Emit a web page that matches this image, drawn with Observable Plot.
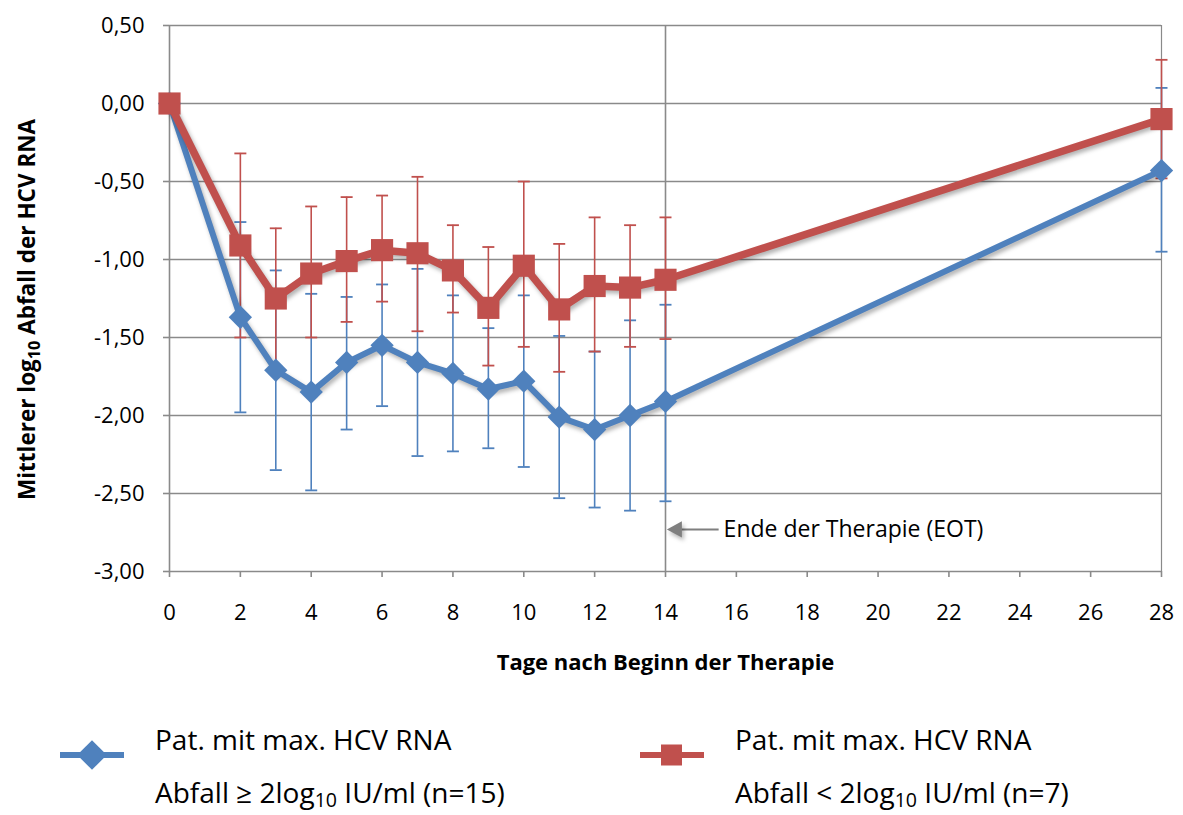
<!DOCTYPE html>
<html><head><meta charset="utf-8">
<script src="https://cdn.jsdelivr.net/npm/d3@7"></script>
<script src="https://cdn.jsdelivr.net/npm/@observablehq/plot@0.6"></script>
<style>
body{margin:0;background:#fff;font-family:"Open Sans",sans-serif}
#legend{display:block}
</style>
</head><body><div id="chart"></div>
<script>
// ---- data ----
const days = [0, 2, 3, 4, 5, 6, 7, 8, 9, 10, 11, 12, 13, 14, 28];
const blueMean  = [0, -1.37, -1.71, -1.85, -1.66, -1.55, -1.66, -1.73, -1.83, -1.78, -2.01, -2.09, -2.00, -1.91, -0.43];
const blueUpper = [0, -0.76, -1.07, -1.22, -1.24, -1.16, -1.06, -1.23, -1.44, -1.23, -1.49, -1.59, -1.39, -1.29, 0.10];
const blueLower = [0, -1.98, -2.35, -2.48, -2.09, -1.94, -2.26, -2.23, -2.21, -2.33, -2.53, -2.59, -2.61, -2.55, -0.95];
const redMean  = [0, -0.91, -1.25, -1.09, -1.01, -0.94, -0.96, -1.07, -1.31, -1.04, -1.32, -1.17, -1.18, -1.13, -0.10];
const redUpper = [0, -0.32, -0.80, -0.66, -0.60, -0.59, -0.47, -0.78, -0.92, -0.50, -0.90, -0.73, -0.78, -0.73, 0.28];
const redLower = [0, -1.50, -1.70, -1.50, -1.40, -1.27, -1.46, -1.34, -1.68, -1.56, -1.72, -1.59, -1.56, -1.51, -0.48];

const xTicks = [0, 2, 4, 6, 8, 10, 12, 14, 16, 18, 20, 22, 24, 26, 28];
const yTicks = [0.5, 0, -0.5, -1, -1.5, -2, -2.5, -3];
const xTitle = "Tage nach Beginn der Therapie";
const yTitleParts = ["Mittlerer log", "10", " Abfall der HCV RNA"];
const eotDay = [14];
const lastDay = [28];
const annotation = [{label: "Ende der Therapie (EOT)", xText: 15.64, xFrom: 15.5, xTip: 14.05, xHeadEnd: 14.45, y: -2.73}];
const legendBlue = ["Pat. mit max. HCV RNA", "Abfall ≥ 2log", "10", " IU/ml (n=15)"];
const legendRed  = ["Pat. mit max. HCV RNA", "Abfall < 2log", "10", " IU/ml (n=7)"];

const BLUE = "#4F81BD", RED = "#C0504D", GRID = "#8a8a8a";

const blue = days.map((d, i) => ({day: d, mean: blueMean[i], hi: blueUpper[i], lo: blueLower[i]}));
const red  = days.map((d, i) => ({day: d, mean: redMean[i], hi: redUpper[i], lo: redLower[i]}));
const blueErr = blue.filter(d => d.hi !== d.lo);
const redErr = red.filter(d => d.hi !== d.lo);
const caps = arr => arr.flatMap(d => [{day: d.day, v: d.hi}, {day: d.day, v: d.lo}]);

const capSymbol = {draw(ctx, size) { const w = Math.sqrt(size / Math.PI); ctx.moveTo(-w, 0); ctx.lineTo(w, 0); }};
const headSymbol = {draw(ctx, size) { const s = Math.sqrt(size / Math.PI); ctx.moveTo(-s, 0); ctx.lineTo(s, -1.07 * s); ctx.lineTo(s, 1.07 * s); ctx.closePath(); }};
const fmt = d => d.toFixed(2).replace(".", ",");

const chart = Plot.plot({
  width: 1183, height: 700,
  marginLeft: 169, marginRight: 22, marginTop: 25, marginBottom: 129,
  style: {fontFamily: "Open Sans, sans-serif", background: "white", color: "black"},
  x: {domain: [0, 28]},
  y: {domain: [-3, 0.5]},
  marks: [
    Plot.gridY(yTicks, {stroke: GRID, strokeOpacity: 1, strokeWidth: 1.6}),
    Plot.ruleX([0], {stroke: GRID, strokeWidth: 1.6}),
    Plot.ruleX(eotDay, {stroke: GRID, strokeWidth: 1.6}),
    Plot.ruleX(lastDay, {stroke: GRID, strokeWidth: 1.2}),
    Plot.axisX({ticks: xTicks, tickSize: 6, tickPadding: 27, fontSize: 22, stroke: GRID, strokeWidth: 1.6, label: null}),
    Plot.axisY({ticks: yTicks, tickFormat: fmt, tickSize: 6, tickPadding: 19, fontSize: 22, stroke: GRID, strokeWidth: 1.6, label: null}),
    Plot.ruleX(blueErr, {x: "day", y1: "lo", y2: "hi", stroke: BLUE, strokeWidth: 1.6}),
    Plot.dot(caps(blueErr), {x: "day", y: "v", symbol: capSymbol, r: 6, stroke: BLUE, fill: "none", strokeWidth: 1.8}),
    Plot.ruleX(redErr, {x: "day", y1: "lo", y2: "hi", stroke: RED, strokeWidth: 1.6}),
    Plot.dot(caps(redErr), {x: "day", y: "v", symbol: capSymbol, r: 6, stroke: RED, fill: "none", strokeWidth: 1.8}),
    Plot.line(blue, {x: "day", y: "mean", stroke: BLUE, strokeWidth: 6}),
    Plot.dot(blue, {x: "day", y: "mean", symbol: "diamond2", r: 10.5, fill: BLUE, stroke: "none"}),
    Plot.line(red, {x: "day", y: "mean", stroke: RED, strokeWidth: 7.5}),
    Plot.dot(red, {x: "day", y: "mean", symbol: "square", r: 12.5, fill: RED, stroke: "none"}),
    Plot.link(annotation, {x1: "xFrom", x2: "xHeadEnd", y1: "y", y2: "y", stroke: "#7f7f7f", strokeWidth: 2}),
    Plot.dot(annotation, {x: d => (d.xTip + d.xHeadEnd) / 2, y: "y", symbol: headSymbol, r: 7.5, fill: "#7f7f7f", stroke: "none"}),
    Plot.text(annotation, {x: "xText", y: "y", text: "label", textAnchor: "start", fontSize: 23, fill: "black"}),
    Plot.text([xTitle], {frameAnchor: "bottom", dy: 98, fontWeight: "bold", fontSize: 22, fill: "black"}),
    Plot.text([yTitleParts.join("")], {frameAnchor: "left", textAnchor: "middle", rotate: -90, dx: -142, dy: 11, fontWeight: "bold", fontSize: 22.5, fill: "black"})
  ]
});
document.getElementById("chart").appendChild(chart);

// shadows on series lines and markers
const shadow = "drop-shadow(2px 3px 2px rgba(0,0,0,0.3))";
chart.querySelectorAll('g[aria-label="line"]').forEach(g => g.style.filter = shadow);
const dotGroups = chart.querySelectorAll('g[aria-label="dot"]');
[4, 5].forEach(i => dotGroups[i] && (dotGroups[i].style.filter = shadow));

// subscript in y title
chart.querySelectorAll('g[aria-label="text"] text').forEach(t => {
  if (t.textContent === yTitleParts.join("")) {
    t.textContent = "";
    const s = d3.select(t);
    s.append("tspan").text(yTitleParts[0]);
    s.append("tspan").attr("font-size", "0.72em").attr("dy", "0.3em").text(yTitleParts[1]);
    s.append("tspan").attr("dy", "-0.22em").text(yTitleParts[2]);
  }
});

// legend
const leg = d3.select("body").append("svg").attr("id", "legend").attr("width", 1183).attr("height", 115)
  .style("font-family", "Open Sans, sans-serif");
function item(x0, color, kind, parts) {
  const g = leg.append("g");
  g.append("line").attr("x1", x0).attr("x2", x0 + 64).attr("y1", 55).attr("y2", 55).attr("stroke", color).attr("stroke-width", 6);
  if (kind === "diamond") {
    g.append("path").attr("d", d3.symbol(d3.symbolDiamond2, 560)()).attr("transform", `translate(${x0 + 32},55)`).attr("fill", color);
  } else {
    g.append("rect").attr("x", x0 + 21).attr("y", 44.5).attr("width", 21).attr("height", 21).attr("fill", color);
  }
  const tx = x0 + 95;
  g.append("text").attr("x", tx).attr("y", 50).attr("font-size", 28).text(parts[0]);
  const t2 = g.append("text").attr("x", tx).attr("y", 103).attr("font-size", 28);
  t2.append("tspan").text(parts[1]);
  t2.append("tspan").attr("font-size", "0.7em").attr("dy", "0.2em").text(parts[2]);
  t2.append("tspan").attr("dy", "-0.14em").text(parts[3]);
}
item(60, BLUE, "diamond", legendBlue);
item(640, RED, "square", legendRed);
</script>
</body></html>
